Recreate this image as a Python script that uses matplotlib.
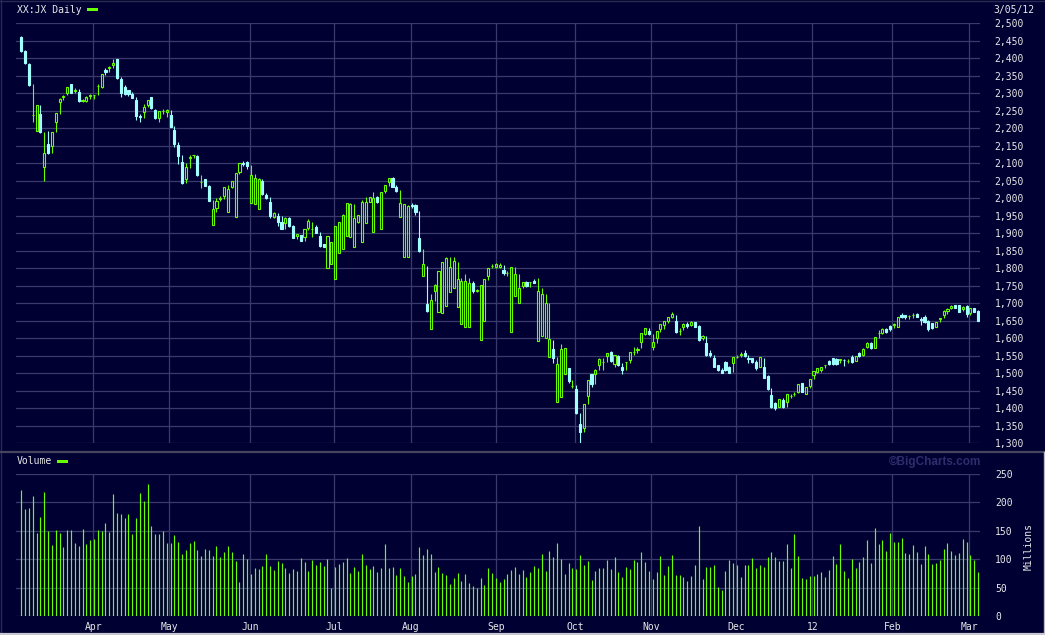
import matplotlib
matplotlib.use("Agg")
import matplotlib.pyplot as plt
from matplotlib.patches import Rectangle
from matplotlib.lines import Line2D
import numpy as np

# ---------------- data ----------------
opens = [2460,2421,2384,2237,2193,2241,2090,2155,2150,2219,2276,2290,2300,2327,2307,2305,2277,2279,2292,2294,
         2320,2318,2366,2372,2381,2397,2340,2317,2309,2298,2281,2235,2247,2266,2289,2252,2230,2249,2246,2237,
         2195,2152,2103,2055,2116,2124,2121,2046,2055,2035,1923,1971,1999,2008,1962,2033,1946,2076,2101,2103,
         1988,1983,1969,2050,2009,1989,1948,1950,1933,1929,1944,1921,1891,1895,1890,1914,1911,1918,1892,1869,
         1800,1811,1769,1843,1854,1892,1889,1860,1933,1874,1929,1989,1903,2005,1911,2022,2048,2058,2033,1948,
         1833,1833,1980,1981,1886,1778,1698,1626,1736,1676,1673,1693,1733,1743,1689,1642,1633,1632,1757,1735,
         1594,1649,1778,1806,1804,1803,1795,1786,1619,1722,1702,1750,1762,1761,1764,1593,1607,1602,1548,1569,
         1419,1433,1498,1514,1464,1454,1355,1345,1436,1498,1498,1524,1531,1550,1560,1527,1550,1519,1531,1538,
         1561,1568,1590,1612,1621,1576,1601,1627,1638,1649,1662,1650,1621,1633,1641,1638,1648,1635,1600,1588,
         1559,1545,1524,1510,1532,1519,1529,1547,1553,1559,1543,1543,1533,1517,1517,1492,1438,1416,1405,1424,
         1419,1435,1441,1448,1471,1440,1464,1495,1505,1509,1524,1534,1543,1540,1539,1539,1535,1548,1536,1557,
         1552,1576,1586,1573,1614,1616,1626,1635,1639,1633,1668,1668,1664,1666,1669,1655,1660,1649,1643,1631,
         1656,1667,1678,1686,1694,1694,1683,1692,1673,1688,1679]
highs = [2464,2424,2386,2327,2266,2267,2189,2192,2188,2245,2286,2294,2317,2327,2314,2311,2284,2291,2298,2296,
         2326,2355,2371,2378,2398,2399,2346,2324,2309,2305,2289,2241,2270,2280,2289,2254,2249,2256,2254,2252,
         2207,2162,2124,2100,2124,2125,2125,2066,2055,2037,1995,2000,2007,2033,2038,2049,2071,2100,2106,2106,
         2095,2070,2058,2055,2014,2003,1962,1957,1950,1948,1948,1923,1898,1895,1911,1941,1932,1923,1905,1869,
         1892,1876,1920,1932,1955,1986,1988,1984,1951,1995,2003,2005,2017,2008,2017,2037,2057,2061,2039,2024,
         1984,1981,1986,1984,1964,1855,1807,1727,1754,1793,1817,1831,1831,1831,1817,1772,1784,1771,1764,1741,
         1752,1769,1800,1812,1814,1814,1810,1793,1803,1803,1784,1760,1764,1762,1769,1771,1743,1728,1702,1595,
         1548,1583,1571,1514,1481,1467,1386,1412,1481,1498,1512,1543,1543,1559,1564,1551,1552,1529,1532,1560,
         1574,1576,1614,1629,1629,1612,1620,1641,1649,1660,1675,1666,1630,1645,1648,1650,1648,1638,1609,1607,
         1567,1552,1524,1514,1534,1521,1546,1552,1562,1567,1552,1543,1538,1546,1543,1494,1457,1418,1426,1429,
         1440,1441,1446,1469,1471,1460,1483,1507,1514,1517,1525,1538,1543,1543,1540,1541,1540,1552,1550,1560,
         1571,1590,1590,1605,1624,1630,1630,1638,1645,1660,1671,1668,1668,1673,1671,1660,1667,1652,1645,1646,
         1657,1681,1686,1695,1694,1696,1692,1694,1686,1688,1681]
lows = [2419,2383,2322,2219,2191,2188,2050,2128,2130,2190,2241,2281,2296,2302,2300,2276,2274,2276,2284,2285,
        2296,2316,2352,2362,2373,2340,2289,2295,2292,2286,2224,2219,2230,2260,2255,2227,2219,2240,2233,2205,
        2148,2097,2041,2045,2088,2115,2065,2030,2035,1992,1923,1962,1991,1998,1962,2029,1946,2070,2092,2085,
        1988,1983,1969,2010,1999,1945,1945,1921,1913,1913,1919,1886,1883,1879,1879,1910,1890,1900,1862,1860,
        1800,1811,1769,1843,1854,1892,1889,1860,1929,1874,1929,1989,1903,1988,1911,2014,2036,2031,2019,1948,
        1833,1833,1973,1952,1848,1778,1675,1626,1708,1676,1673,1693,1733,1743,1689,1642,1633,1632,1729,1731,
        1594,1649,1767,1800,1802,1801,1781,1778,1619,1722,1702,1745,1747,1746,1759,1593,1607,1602,1548,1530,
        1419,1433,1498,1471,1457,1384,1302,1331,1412,1462,1470,1510,1510,1533,1533,1517,1521,1498,1510,1529,
        1552,1559,1573,1610,1610,1567,1588,1619,1628,1643,1657,1616,1610,1624,1629,1635,1631,1593,1595,1550,
        1548,1517,1508,1502,1508,1502,1505,1543,1546,1548,1530,1530,1510,1517,1488,1452,1402,1395,1405,1400,
        1405,1429,1435,1443,1448,1440,1457,1483,1500,1505,1514,1524,1524,1525,1530,1521,1530,1530,1536,1548,
        1550,1571,1569,1571,1602,1612,1616,1622,1630,1633,1659,1656,1654,1657,1662,1639,1645,1622,1628,1631,
        1646,1657,1669,1683,1686,1676,1679,1662,1667,1676,1650]
closes = [2422,2386,2324,2239,2266,2190,2129,2129,2188,2243,2284,2293,2317,2302,2310,2279,2280,2288,2294,2296,
          2322,2355,2362,2374,2388,2345,2302,2298,2298,2288,2236,2233,2262,2280,2258,2229,2249,2250,2252,2205,
          2155,2122,2043,2089,2118,2125,2067,2048,2035,1993,1969,1992,2000,2032,2026,2049,2071,2100,2099,2093,
          2066,2058,2054,2012,2002,1950,1959,1932,1913,1943,1921,1888,1898,1879,1911,1935,1913,1902,1864,1862,
          1892,1876,1920,1932,1951,1986,1984,1943,1951,1989,1989,2005,2002,1990,2017,2037,2057,2033,2022,1986,
          1984,1978,1977,1962,1850,1811,1677,1709,1752,1791,1817,1829,1805,1820,1769,1763,1765,1759,1735,1737,
          1752,1769,1800,1807,1811,1809,1787,1788,1803,1784,1743,1760,1749,1762,1759,1736,1726,1702,1597,1545,
          1526,1569,1571,1478,1465,1386,1331,1412,1481,1470,1510,1541,1532,1557,1536,1551,1524,1510,1532,1560,
          1562,1569,1614,1629,1612,1589,1620,1641,1649,1660,1669,1618,1622,1641,1635,1647,1631,1595,1607,1552,
          1552,1519,1510,1502,1510,1502,1546,1548,1554,1550,1540,1533,1514,1546,1488,1455,1405,1400,1426,1405,
          1440,1436,1442,1469,1448,1460,1483,1507,1514,1517,1525,1526,1527,1527,1540,1538,1536,1533,1550,1550,
          1569,1588,1571,1603,1615,1628,1619,1628,1640,1660,1662,1662,1665,1667,1662,1653,1648,1628,1630,1646,
          1657,1678,1684,1692,1686,1676,1690,1669,1686,1676,1650]
volume_millions = [222,188,190,211,146,174,218,150,125,151,146,121,151,151,129,123,153,127,134,136,
                   151,150,164,148,215,181,180,173,180,144,173,217,202,232,158,144,144,150,129,129,
                   143,130,109,116,129,132,116,106,118,116,106,123,104,113,123,113,97,60,109,100,
                   74,85,83,88,109,88,81,97,93,85,76,83,79,102,95,79,99,90,95,88,
                   100,49,86,92,95,102,
                   76,86,79,109,90,83,88,77,85,127,85,86,72,85,70,60,70,74,121,107,
                   118,109,77,86,76,72,56,67,76,62,74,58,53,49,67,55,85,76,67,60,
                   65,74,81,86,74,81,69,77,88,85,109,79,114,104,129,100,74,93,85,83,
                   107,90,97,63,79,85,85,99,83,104,77,69,86,83,99,95,113,95,79,65,
                   77,106,72,88,107,72,72,69,62,70,90,158,
                   65,86,86,90,51,46,79,99,93,90,69,90,90,102,85,90,86,104,113,104,
                   97,97,127,85,144,106,67,65,70,70,74,77,69,81,106,92,127,79,67,100,
                   85,95,104,134,93,155,127,134,114,146,130,130,137,111,109,125,113,92,123,109,
                   92,93,99,118,129,114,107,111,136,130,107,99,77]
month_labels = ["Apr", "May", "Jun", "Jul", "Aug", "Sep", "Oct", "Nov", "Dec", "12", "Feb", "Mar"]
month_start_pos = [18.8, 38.7, 59.8, 81.8, 101.7, 124.0, 144.8, 164.6, 186.8, 206.7, 227.6, 247.7]
price_ticks = list(range(1300, 2501, 50))
volume_ticks = [0, 50, 100, 150, 200, 250]

# ---------------- style ----------------
BG = "#000033"
GRID = "#3a3a6c"
GREEN = "#66ff00"
CYAN = "#a0ffff"
TXT = "#e8e8e8"
MONO = "DejaVu Sans Mono"

W, H = 1045, 635
fig = plt.figure(figsize=(W / 100, H / 100), dpi=100, facecolor=BG)


def fx(px):
    return px / W


def fy(py):
    return 1 - py / H


ax = fig.add_axes([fx(16), fy(443.3), (980 - 16) / W, (443.3 - 23.3) / H], facecolor=BG)
axv = fig.add_axes([fx(16), fy(616), (980 - 16) / W, (616 - 474) / H], facecolor=BG)

O = np.array(opens, float)
Hh = np.array(highs, float)
L = np.array(lows, float)
C = np.array(closes, float)
V = np.array(volume_millions, float)
n = len(C)
x = np.arange(n)
up = C >= O
dn = ~up
blo = np.minimum(O, C)
bhi = np.maximum(O, C)
bh = np.maximum(bhi - blo, 0.01)

# up candles (hollow green)
ax.vlines(x[up], bhi[up], Hh[up], color=GREEN, lw=0.8, zorder=3)
ax.vlines(x[up], L[up], blo[up], color=GREEN, lw=0.8, zorder=3)
ax.bar(x[up], bh[up], bottom=blo[up], width=0.55, facecolor="none",
       edgecolor=GREEN, lw=0.8, zorder=4)
# down candles (filled cyan)
ax.vlines(x[dn], L[dn], Hh[dn], color=CYAN, lw=0.8, zorder=3)
ax.bar(x[dn], bh[dn], bottom=blo[dn], width=0.55, facecolor=CYAN,
       edgecolor=CYAN, lw=0.8, zorder=4)

# volume
axv.vlines(np.arange(len(V)), 0, V, color=GREEN, lw=0.85, zorder=3)

xl = (-1.385, 250.5)
for a in (ax, axv):
    a.set_xlim(*xl)
    a.set_xticks(month_start_pos)
    a.set_axisbelow(True)
    a.grid(True, color=GRID, lw=0.9)
    for s in a.spines.values():
        s.set_visible(False)
    a.yaxis.tick_right()
    a.tick_params(axis="both", length=0, colors=TXT, labelsize=7)

ax.set_ylim(1300, 2500)
ax.set_yticks(price_ticks)
ax.set_yticklabels([f"{v:,}" for v in price_ticks], family=MONO, color=TXT, fontsize=7)
ax.tick_params(axis="y", pad=10.5)
ax.set_xticklabels([])

axv.set_ylim(0, 250)
axv.set_yticks(volume_ticks)
axv.set_yticklabels([str(v) for v in volume_ticks], family=MONO, color=TXT, fontsize=7)
axv.tick_params(axis="y", pad=11)
axv.set_xticklabels(month_labels, family=MONO, color=TXT, fontsize=7)
axv.tick_params(axis="x", pad=4.5)

# titles / labels
fig.text(fx(17), fy(10), "XX:JX Daily", ha="left", va="center", family=MONO, fontsize=7, color=TXT)
fig.add_artist(Rectangle((fx(87.3), fy(10.7)), 10.4 / W, 2.6 / H, transform=fig.transFigure,
                         facecolor=GREEN, edgecolor="none"))
fig.text(fx(1034), fy(9.5), "3/05/12", ha="right", va="center", family=MONO, fontsize=7, color=TXT)
fig.text(fx(17), fy(461.5), "Volume", ha="left", va="center", family=MONO, fontsize=7, color=TXT)
fig.add_artist(Rectangle((fx(57.3), fy(462.8)), 10.4 / W, 2.6 / H, transform=fig.transFigure,
                         facecolor=GREEN, edgecolor="none"))
fig.text(fx(981), fy(461.5), "\u00a9BigCharts.com", ha="right", va="center",
         family="Liberation Sans", weight="bold", fontsize=8.5, color="#2e2e6c")
fig.text(fx(1029), fy(547), "Millions", ha="center", va="center", rotation=90,
         family=MONO, fontsize=7, color=TXT)

# frame lines
def fline(x0, y0, x1, y1, color, lw):
    fig.add_artist(Line2D([fx(x0), fx(x1)], [fy(y0), fy(y1)], transform=fig.transFigure,
                          color=color, lw=lw))

fline(0, 0.5, 1045, 0.5, "#2a2a50", 1.0)
fline(0.5, 0, 0.5, 635, "#2a2a50", 1.0)
fline(0, 452, 1045, 452, "#45455e", 1.6)
fline(1044, 452, 1044, 635, "#b8b8c8", 1.0)
fline(0, 634, 1045, 634, "#c8c8d0", 1.6)

fig.savefig("out.png", dpi=100, facecolor=BG)
